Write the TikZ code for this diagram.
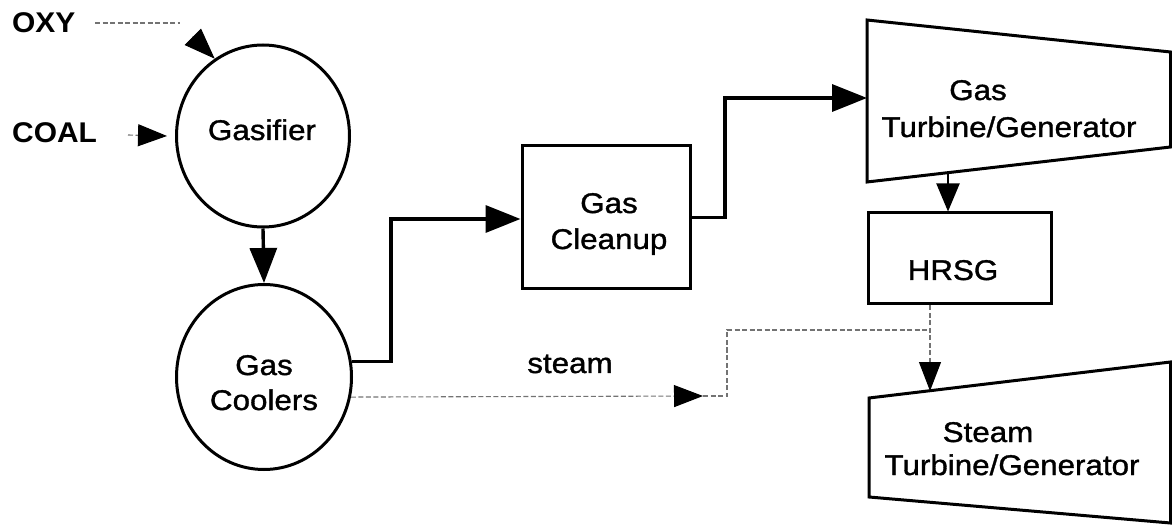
\documentclass[tikz,border=0pt]{standalone}
\usepackage{fontspec}
\newfontfamily\labfont[FakeStretch=1.1,FakeBold=1.2]{Liberation Sans}
\newfontfamily\boldlab[FakeStretch=1.05,UprightFont=* Bold]{Liberation Sans}
\usetikzlibrary{arrows.meta,shapes.geometric,calc}
\begin{document}
\begin{tikzpicture}[x=1pt,y=-1pt,
  lbl/.style={font=\labfont\fontsize{28.5}{34}\selectfont, inner sep=0pt, anchor=base},
  blbl/.style={font=\boldlab\fontsize{28.5}{34}\selectfont, inner sep=0pt, anchor=base west},
  outline/.style={draw, line width=3pt, line join=miter},
  unitbox/.style={outline, inner sep=0pt, rectangle},
  unitcirc/.style={outline, inner sep=0pt, ellipse},
  flow/.style={line width=3.4pt, -{Triangle[length=35pt,width=27pt]}},
  thinflow/.style={line width=2pt, -{Triangle[length=28pt,width=23pt]}},
  dashline/.style={black!55, line width=1.1pt, dash pattern=on 5pt off 2.5pt},
  dashflow/.style={dashline, -{Triangle[length=29pt,width=22pt,black]}},
]
\useasboundingbox (0,0) rectangle (1172,526);

% units
\node[unitcirc, minimum width=173pt, minimum height=182pt] (gas) at (263,136) {};
\node[unitcirc, minimum width=175pt, minimum height=185pt] (cool) at (264,377) {};
\node[unitbox, minimum width=168pt, minimum height=143pt] (clean) at (606,217.5) {};
\node[unitbox, minimum width=183pt, minimum height=91pt] (hrsg) at (959.5,258.5) {};

\coordinate (gtA) at (867,20);
\coordinate (gtB) at (1170.5,52);
\coordinate (gtC) at (1170.5,147);
\coordinate (gtD) at (867,182);
\draw[outline] (gtA) -- (gtB) -- (gtC) -- (gtD) -- cycle;

\coordinate (stA) at (869,398);
\coordinate (stB) at (1170.5,362);
\coordinate (stC) at (1170.5,523);
\coordinate (stD) at (869,497);
\draw[outline] (stA) -- (stB) -- (stC) -- (stD) -- cycle;

% labels
\node[blbl] (oxy) at (12,33) {OXY};
\node[blbl] (coal) at (12,143) {COAL};
\node[lbl] (tgas) at (262,140) {Gasifier};
\node[lbl] (tcool1) at (264,375) {Gas};
\node[lbl] (tcool2) at (264,410) {Coolers};
\node[lbl] (tclean1) at (609,213) {Gas};
\node[lbl] (tclean2) at (609,249) {Cleanup};
\node[lbl] (tsteam) at (570,373) {steam};
\node[lbl] (tgt1) at (978,100) {Gas};
\node[lbl] (tgt2) at (1009,137) {Turbine/Generator};
\node[lbl] (thrsg) at (953,280) {HRSG};
\node[lbl] (tst1) at (988,442) {Steam};
\node[lbl] (tst2) at (1012,475) {Turbine/Generator};

% inputs
\coordinate (oxyA) at (95,23);
\coordinate (oxyB) at (180,23);
\draw[dashline] (oxyA) -- (oxyB);
\draw[line width=1pt, -{Triangle[length=31pt,width=23pt]}] ($(gas.122)+(-22,-22)$) -- (gas.122);
\coordinate (coalA) at (128,135);
\draw[dashflow] (coalA) -- ($(gas.west)+(-8,0)$);

% main gas path
\draw[flow] (gas.south) -- (cool.north);
\coordinate (j1) at (391,219);
\draw[flow] (cool.10) -| (j1) -- (j1 -| clean.west);
\coordinate (cout) at (clean.east);
\coordinate (j2) at (725,98);
\draw[flow] (cout) -| (j2) -- (j2 -| gtA);
\coordinate (gtout) at (948,173);
\draw[thinflow] (gtout) -- (gtout |- hrsg.north);

% steam path
\coordinate (stin) at (930,391);
\draw[dashflow] (hrsg.south -| stin) -- (stin);
\coordinate (sTip) at (703,396);
\draw[dashflow] (cool.-13) -- (sTip);
\coordinate (j3) at (727,330);
\draw[dashline] (sTip) -- (sTip -| j3) -- (j3) -- (j3 -| stin);
\end{tikzpicture}
\end{document}
